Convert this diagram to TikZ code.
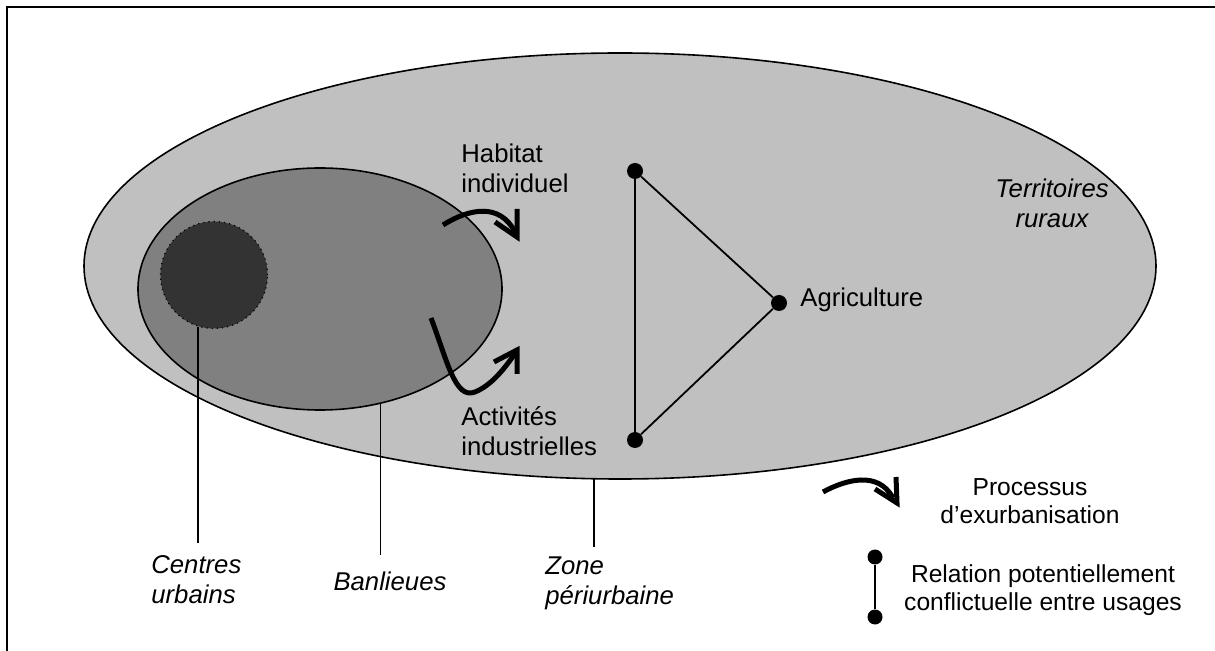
\documentclass[tikz,border=0pt]{standalone}
\usepackage{fontspec}
\setmainfont{Liberation Sans}
\usetikzlibrary{shapes.geometric}
\definecolor{outerg}{gray}{0.753}
\definecolor{innerg}{gray}{0.502}
\definecolor{coreg}{gray}{0.2}
\begin{document}
\begin{tikzpicture}[x=0.5pt,y=-0.5pt,
  zone/.style={ellipse, draw=black, line width=0.8pt, inner sep=0pt, outer sep=0pt},
  lbl/.style={font=\fontsize{12.85}{15}\selectfont, inner sep=0pt},
  ilbl/.style={font=\fontsize{12.85}{15}\selectfont\itshape, inner sep=0pt},
  leg/.style={font=\fontsize{12.3}{13.8}\selectfont, inner sep=0pt, align=center},
  dot/.style={circle, fill=black, minimum size=8pt, inner sep=0pt},
  rel/.style={line width=0.9pt},
  exarrow/.style={line width=2.5pt, line join=miter},
  lead/.style={line width=0.8pt}]
\useasboundingbox (0,0) rectangle (1215,651);
\fill[white] (0,0) rectangle (1215,651);
\draw[line width=1pt] (7,651) -- (7,7) -- (1215,7);
% zones
\node[zone, fill=outerg, minimum width=536pt, minimum height=213pt] (peri) at (620,266) {};
\node[zone, fill=innerg, minimum width=182pt, minimum height=121pt] (banl) at (320,289) {};
\node[circle, fill=coreg, draw=black, dotted, line width=0.6pt, minimum size=53.5pt, inner sep=0pt] (centre) at (214,275) {};
% labels
\node[ilbl, anchor=west, align=left] (cu) at (151,580) {Centres\\urbains};
\node[ilbl] (bl) at (390,581) {Banlieues};
\node[ilbl, anchor=west, align=left] (zp) at (545,583) {Zone\\périurbaine};
\node[ilbl, align=center] (tr) at (1052,203) {Territoires\\ruraux};
\node[lbl, anchor=west, align=left] (hi) at (461,168) {Habitat\\individuel};
\node[lbl, anchor=west, align=left] (ai) at (461,431) {Activités\\industrielles};
\node[lbl, anchor=west] (ag) at (800,300) {Agriculture};
% triangle of conflicts
\node[dot] (t1) at (635,171) {};
\node[dot] (t2) at (635,440) {};
\node[dot] (t3) at (779,303) {};
\draw[rel] (t1) -- (t2);
\draw[rel] (t2) -- (t3);
\draw[rel] (t3) -- (t1);
% leader lines
\coordinate (cuEnd) at (199,543);
\coordinate (blEnd) at (381,555);
\coordinate (zpEnd) at (594,547);
\draw[lead] (centre.253.7) -- (centre.253.7 |- cuEnd);
\draw[lead] (banl.298.2) -- (banl.298.2 |- blEnd);
\draw[lead] (zpEnd |- peri.south) -- (zpEnd);
% exurbanisation arrows
\draw[exarrow] (443,225) .. controls (470,208) and (500,203) .. (515,232);
\draw[exarrow] (495,222) -- (517,237) -- (517,209);
\draw[exarrow] (431,318) .. controls (447,360) and (455,400) .. (475,392) .. controls (492,385) and (505,368) .. (516,352);
\draw[exarrow] (494,362) -- (517,350) -- (517,374);
% legend
\draw[exarrow] (823,492) .. controls (845,480) and (878,470) .. (893,498);
\draw[exarrow] (875,489) -- (897,503) -- (896,477);
\node[leg] (lp) at (1030,501) {Processus\\d’exurbanisation};
\node[dot, minimum size=7.5pt] (l1) at (875,557) {};
\node[dot, minimum size=7.5pt] (l2) at (875,617) {};
\draw[rel] (l1) -- (l2);
\node[leg] (lr) at (1043,590) {Relation potentiellement\\conflictuelle entre usages};
\end{tikzpicture}
\end{document}
